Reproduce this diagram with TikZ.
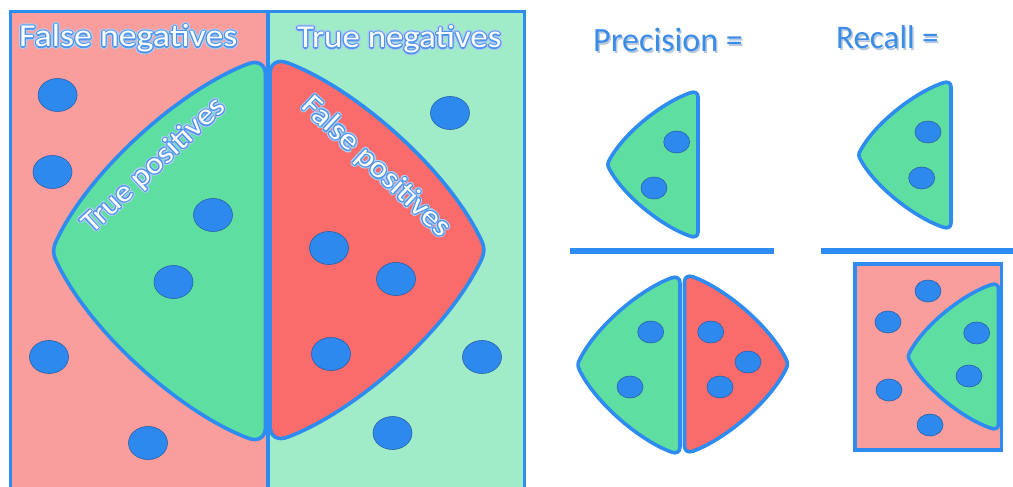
\documentclass[tikz,border=0pt]{standalone}
\usepackage{fontspec}
\setmainfont{Carlito}
\usepackage{graphicx}
\definecolor{panelpink}{RGB}{250,157,157}
\definecolor{panelgreen}{RGB}{160,236,200}
\definecolor{shapegreen}{RGB}{94,223,161}
\definecolor{shapered}{RGB}{250,107,107}
\definecolor{lineblue}{RGB}{46,139,239}
\definecolor{dotblue}{RGB}{46,137,238}
\definecolor{dotedge}{RGB}{40,95,170}
\definecolor{glowdark}{RGB}{80,148,232}
\definecolor{glowlight}{RGB}{175,205,245}
\definecolor{textblue}{RGB}{58,140,230}
\definecolor{textshadow}{RGB}{185,200,220}
\tikzset{
  tpshape/.style={fill=shapegreen,draw=lineblue,line width=3.6pt,line join=round},
  fpshape/.style={fill=shapered,draw=lineblue,line width=3.6pt,line join=round},
  bigdot/.style={fill=dotblue,draw=dotedge,line width=0.6pt},
  frameline/.style={draw=lineblue,line width=3pt},
  fracline/.style={draw=lineblue,line width=6pt},
  lbl/.style={inner sep=0pt,font=\fontsize{32}{38}\selectfont},
  glowA/.style={lbl,text=glowlight},
  glowB/.style={lbl,text=glowdark},
  whitetxt/.style={lbl,text=white},
  bluetxt/.style={inner sep=0pt,text=textblue,anchor=base west},
}
\newcommand\HalfPath{(0,-0.931) .. controls (0,-0.989) and (-0.037,-1.011) .. (-0.084,-0.989)
 .. controls (-0.4,-0.852) and (-0.819,-0.429) .. (-0.975,-0.06)
 .. controls (-0.995,-0.013) and (-0.995,0.013) .. (-0.975,0.06)
 .. controls (-0.819,0.429) and (-0.4,0.852) .. (-0.084,0.989)
 .. controls (-0.037,1.011) and (0,0.989) .. (0,0.931) -- cycle}
\newcommand\glowlabel[4]{%
  \foreach \ang in {0,30,...,330}{%
    \node[glowA,#3] (#1-a\ang) at ([shift={(\ang:2.3)}]#2) {#4};}%
  \foreach \ang in {0,30,...,330}{%
    \node[glowB,#3] (#1-b\ang) at ([shift={(\ang:1.1)}]#2) {#4};}%
  \node[whitetxt,#3] (#1) at (#2) {#4};}
\begin{document}
\begin{tikzpicture}[x=1pt,y=-1pt]
\useasboundingbox (0,0) rectangle (1013,487);
% panels
\fill[panelpink] (10,11) rectangle (267.5,495);
\fill[panelgreen] (267.5,11) rectangle (525,495);
% main shapes
\begin{scope}[shift={(265.5,251)},xscale=214,yscale=189]
  \path[tpshape] \HalfPath;
\end{scope}
\begin{scope}[shift={(270,250)},xscale=-216,yscale=189]
  \path[fpshape] \HalfPath;
\end{scope}
\draw[lineblue,line width=4pt] (267.5,11) -- (267.5,495);
\draw[frameline] (10.5,495) -- (10.5,11.5) -- (524.8,11.5) -- (524.8,495);
% dots left panel
\foreach \px/\py in {57.6/95, 52.5/172, 213/215, 173.5/282, 49/357, 148/443,
                     450/113, 329/248, 396/279, 331/354, 482/357, 392.5/433}{
  \path[bigdot] (\px,\py) ellipse [x radius=19.5, y radius=16.5];}
% labels
\glowlabel{fn}{19,47}{anchor=base west}{\scalebox{1.12}[1]{False negatives}}
\glowlabel{tn}{297,48}{anchor=base west}{\scalebox{1.09}[1]{True negatives}}
\glowlabel{tp}{154,166}{rotate=43,font=\fontsize{30}{36}\selectfont}{\scalebox{1.1}[1]{True positives}}
\glowlabel{fp}{376,167}{rotate=-43,font=\fontsize{30}{36}\selectfont}{\scalebox{1.1}[1]{False positives}}
% right side titles
\node[bluetxt,text=textshadow,font=\fontsize{34}{40}\selectfont] (precsh) at (594.5,53.5) {Precision =};
\node[bluetxt,font=\fontsize{34}{40}\selectfont] (prec) at (593,52) {Precision =};
\node[bluetxt,text=textshadow,font=\fontsize{33}{40}\selectfont] (recsh) at (837.5,50.5) {Recall =};
\node[bluetxt,font=\fontsize{33}{40}\selectfont] (rec) at (836,49) {Recall =};
% precision numerator
\begin{scope}[shift={(698,164.5)},xscale=91,yscale=72.5]
  \path[tpshape] \HalfPath;
\end{scope}
\foreach \px/\py in {676.7/142, 654/188}{
  \path[bigdot] (\px,\py) ellipse [x radius=13, y radius=11];}
\draw[fracline] (570,251) -- (774,251);
% precision denominator
\begin{scope}[shift={(680,365)},xscale=103,yscale=88]
  \path[tpshape] \HalfPath;
\end{scope}
\begin{scope}[shift={(684.5,364)},xscale=-104,yscale=88]
  \path[fpshape] \HalfPath;
\end{scope}
\foreach \px/\py in {650.7/332, 630/387, 710.7/332, 748/362, 720/387}{
  \path[bigdot] (\px,\py) ellipse [x radius=13, y radius=11];}
% recall numerator
\begin{scope}[shift={(951,155)},xscale=93,yscale=73]
  \path[tpshape] \HalfPath;
\end{scope}
\foreach \px/\py in {928/132, 921.7/178}{
  \path[bigdot] (\px,\py) ellipse [x radius=13, y radius=11];}
\draw[fracline] (821,251) -- (1020,251);
% recall denominator
\fill[panelpink] (854.7,263.7) rectangle (1001.3,449.7);
\begin{scope}[shift={(998.5,356.5)},xscale=91,yscale=72.5]
  \path[tpshape] \HalfPath;
\end{scope}
\draw[lineblue,line width=3.6pt] (854.7,263.7) rectangle (1001.3,449.7);
\foreach \px/\py in {928/291, 888/322, 889/390, 930/425, 976.7/333, 969/376}{
  \path[bigdot] (\px,\py) ellipse [x radius=13, y radius=11];}
\end{tikzpicture}
\end{document}
